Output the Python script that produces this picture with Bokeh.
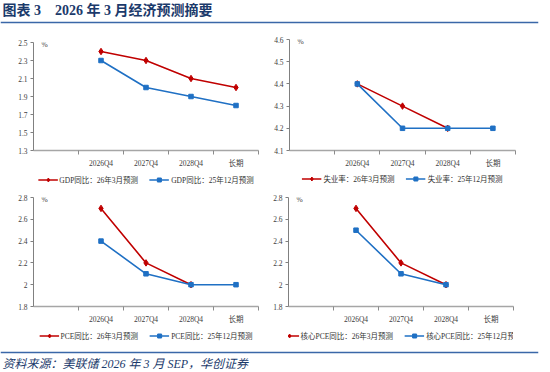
from bokeh.plotting import figure
from bokeh.models import FixedTicker, Legend, LegendItem, Label, Span, Range1d
from bokeh.layouts import column, row
from bokeh.embed import file_html
from bokeh.resources import INLINE

nan = float("nan")

# ---------------- data ----------------
categories = ["2026Q4", "2027Q4", "2028Q4", "长期"]

gdp_mar26 = [2.4, 2.3, 2.1, 2.0]
gdp_dec25 = [2.3, 2.0, 1.9, 1.8]
unemp_mar26 = [4.4, 4.3, 4.2, nan]
unemp_dec25 = [4.4, 4.2, 4.2, 4.2]
pce_mar26 = [2.7, 2.2, 2.0, nan]
pce_dec25 = [2.4, 2.1, 2.0, 2.0]
core_mar26 = [2.7, 2.2, 2.0, nan]
core_dec25 = [2.5, 2.1, 2.0, nan]

gdp_ticks = [1.3, 1.5, 1.7, 1.9, 2.1, 2.3, 2.5]
gdp_tick_labels = ["1.3", "1.5", "1.7", "1.9", "2.1", "2.3", "2.5"]
unemp_ticks = [4.1, 4.2, 4.3, 4.4, 4.5, 4.6]
unemp_tick_labels = ["4.1", "4.2", "4.3", "4.4", "4.5", "4.6"]
pce_ticks = [1.8, 2.0, 2.2, 2.4, 2.6, 2.8]
pce_tick_labels = ["1.8", "2", "2.2", "2.4", "2.6", "2.8"]

gdp_names = ["GDP同比：26年3月预测", "GDP同比：25年12月预测"]
unemp_names = ["失业率：26年3月预测", "失业率：25年12月预测"]
pce_names = ["PCE同比：26年3月预测", "PCE同比：25年12月预测"]
core_names = ["核心PCE同比：26年3月预测", "核心PCE同比：25年12月预测"]

title_text = "图表 3\u00a0\u00a0\u00a0\u00a02026 年 3 月经济预测摘要"
source_text = "资料来源：美联储 2026 年 3 月 SEP，华创证券"

# ---------------- style ----------------
RED = "#C00000"
BLUE = "#1F70C4"
NAVY = "#1B3A6B"
RULE = "#3A67A8"
FONT = "'Liberation Serif', 'Noto Sans CJK SC'"
TICK_COLOR = "#404040"


def style_series(p, xs, red, blue):
    rl = p.line(xs, red, line_color=RED, line_width=1.6)
    rs = p.scatter(xs, red, marker="diamond", size=6.5, fill_color=RED, line_color=RED)
    bl = p.line(xs, blue, line_color=BLUE, line_width=1.6)
    bs = p.scatter(xs, blue, marker="square", size=4.5, fill_color=BLUE, line_color=BLUE)
    return rl, rs, bl, bs


def make_chart(width, height, borders, ticks, tick_labels, red, blue):
    left, right, top, bottom = borders
    xs = [i + 1 for i in range(len(categories))]
    p = figure(width=width, height=height,
               x_range=Range1d(-0.5, len(categories) + 0.5),
               y_range=Range1d(ticks[0], ticks[-1]),
               output_backend="svg", toolbar_location=None,
               min_border_left=left, min_border_right=right,
               min_border_top=top, min_border_bottom=bottom)
    p.outline_line_color = None
    p.grid.visible = False

    xa = p.xaxis[0]
    xa.ticker = FixedTicker(ticks=xs, minor_ticks=[i + 0.5 for i in range(len(categories) + 1)])
    xa.major_label_overrides = {x: c for x, c in zip(xs, categories)}
    xa.major_tick_out = 0
    xa.major_tick_in = 0
    xa.minor_tick_out = 4
    xa.minor_tick_in = 0
    xa.axis_line_color = "#A6A6A6"
    xa.axis_line_width = 1.5
    xa.minor_tick_line_color = "#8C8C8C"
    xa.major_label_standoff = 4
    xa.major_label_text_font = FONT
    xa.major_label_text_font_size = "7.5px"
    xa.major_label_text_color = TICK_COLOR

    ya = p.yaxis[0]
    ya.ticker = FixedTicker(ticks=ticks, minor_ticks=[])
    ya.major_label_overrides = {t: l for t, l in zip(ticks, tick_labels)}
    ya.major_tick_out = 3
    ya.major_tick_in = 0
    ya.minor_tick_out = 0
    ya.axis_line_color = "#808080"
    ya.major_tick_line_color = "#808080"
    ya.major_label_standoff = 3
    ya.major_label_text_font = FONT
    ya.major_label_text_font_size = "7.5px"
    ya.major_label_text_color = TICK_COLOR

    style_series(p, xs, red, blue)

    pct = Label(x=-0.5, y=ticks[-1], x_offset=8, y_offset=-2, text="%",
                text_font=FONT, text_font_size="7.5px", text_color=TICK_COLOR,
                text_baseline="middle")
    p.add_layout(pct)
    return p


def make_legend(width, height, names, border_left, border_right):
    # legend-only strip: proxy renderers sit outside the visible range
    q = figure(width=width, height=height, x_range=Range1d(0, 1), y_range=Range1d(0, 1),
               output_backend="svg", toolbar_location=None,
               min_border_left=border_left, min_border_right=border_right,
               min_border_top=0, min_border_bottom=0,
               x_axis_type=None, y_axis_type=None)
    q.outline_line_color = None
    q.grid.visible = False
    rl, rs, bl, bs = style_series(q, [-5], [-5], [-5])
    leg = Legend(items=[LegendItem(label=names[0], renderers=[rl, rs]),
                        LegendItem(label=names[1], renderers=[bl, bs])],
                 location="center", orientation="horizontal",
                 border_line_color=None, background_fill_alpha=0,
                 padding=0, margin=0, spacing=11, glyph_width=20, glyph_height=10,
                 label_height=10, label_standoff=2,
                 label_text_font=FONT, label_text_font_size="7.5px",
                 label_text_color="#333333")
    q.add_layout(leg)
    return q


# header
hdr = figure(width=550, height=28, x_range=Range1d(0, 538), y_range=Range1d(28, 0),
             output_backend="svg", toolbar_location=None, min_border=0, min_border_right=12,
             x_axis_type=None, y_axis_type=None)
hdr.outline_line_color = None
hdr.grid.visible = False
hdr.add_layout(Label(x=2, y=10, text=title_text, text_font=FONT, text_font_style="bold",
                     text_font_size="14px", text_color=NAVY, text_baseline="middle"))
hdr.add_layout(Span(location=22, dimension="width", line_color=RULE, line_width=1.5))

p1 = make_chart(268, 142, (33, 10, 14, 17), gdp_ticks, gdp_tick_labels, gdp_mar26, gdp_dec25)
p2 = make_chart(282, 142, (21, 35, 11, 19), unemp_ticks, unemp_tick_labels, unemp_mar26, unemp_dec25)
p3 = make_chart(268, 138, (33, 10, 9, 18), pce_ticks, pce_tick_labels, pce_mar26, pce_dec25)
p4 = make_chart(282, 138, (20, 37, 9, 18), pce_ticks, pce_tick_labels, core_mar26, core_dec25)

l1 = make_legend(268, 18, gdp_names, 15, 0)
l2 = make_legend(282, 16, unemp_names, 0, 20)
l3 = make_legend(268, 18, pce_names, 19, 0)
l4 = make_legend(282, 18, core_names, 0, 0)

# footer
ftr = figure(width=550, height=28, x_range=Range1d(0, 550), y_range=Range1d(28, 0),
             output_backend="svg", toolbar_location=None, min_border=0,
             x_axis_type=None, y_axis_type=None)
ftr.outline_line_color = None
ftr.grid.visible = False
ftr.add_layout(Span(location=8, dimension="width", line_color=RULE, line_width=1.5))
ftr.add_layout(Label(x=2, y=19, text=source_text, text_font=FONT, text_font_style="italic",
                     text_font_size="12px", text_color=NAVY, text_baseline="middle"))

layout = column(hdr,
                row(column(p1, l1), column(p2, l2)),
                row(column(p3, l3), column(p4, l4)),
                ftr)

open("out.html", "w").write(file_html(layout, INLINE))
